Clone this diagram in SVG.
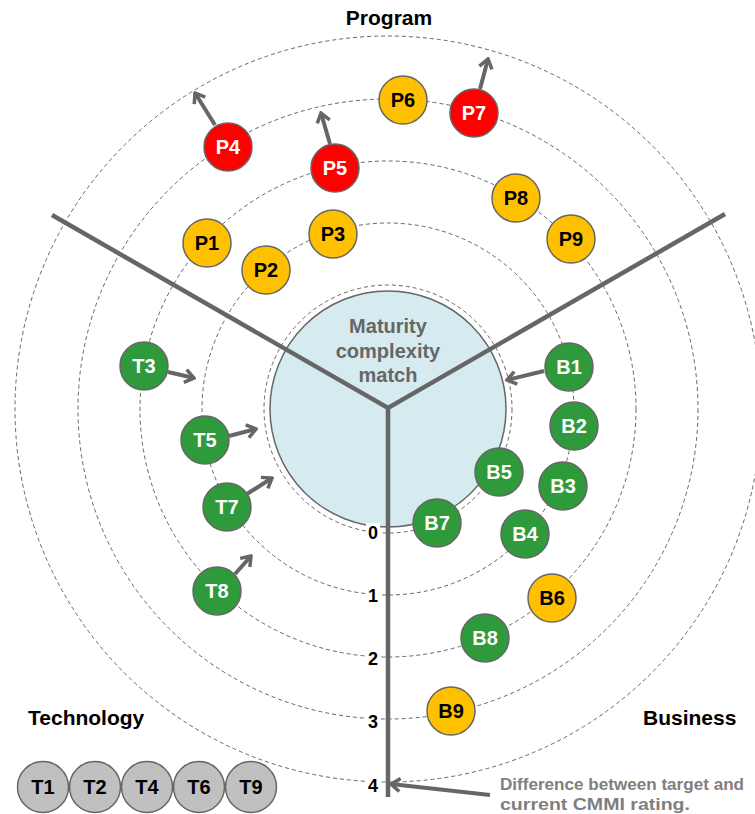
<svg xmlns="http://www.w3.org/2000/svg" width="755" height="814" viewBox="0 0 755 814">
<style>
.ring{fill:none;stroke:#666;stroke-width:1;stroke-dasharray:4 3}
.axis{stroke:#666;stroke-width:4.5;stroke-linecap:butt;fill:none}
.arr{stroke:#666;stroke-width:4;fill:none;marker-end:url(#chev)}
.node{stroke:#666;stroke-width:1.5}
.g{fill:#2E9A3C}.y{fill:#FFC000}.r{fill:#FF0000}.l{fill:#C0C0C0}
.lbl{font-family:"Liberation Sans",Arial,sans-serif;font-weight:bold;font-size:20px;text-anchor:middle;dominant-baseline:central}
.w{fill:#fff}.k{fill:#000}
.num{font-family:"Liberation Sans",Arial,sans-serif;font-weight:bold;font-size:18px;text-anchor:middle;dominant-baseline:central;fill:#000}
.title{font-family:"Liberation Sans",Arial,sans-serif;font-weight:bold;font-size:21px;fill:#000}
.note{font-family:"Liberation Sans",Arial,sans-serif;font-weight:bold;font-size:17px;fill:#7f7f7f}
.center{font-family:"Liberation Sans",Arial,sans-serif;font-weight:bold;font-size:20px;fill:#666;text-anchor:middle}
</style>
<defs>
<marker id="chev" viewBox="0 0 14 16" refX="12" refY="8" markerWidth="14" markerHeight="16" markerUnits="userSpaceOnUse" orient="auto">
<path d="M3,1.5 L12,8 L3,14.5" fill="none" stroke="#666" stroke-width="3.5"/>
</marker>
</defs>
<rect width="755" height="814" fill="#fff"/>
<g id="rings">
<circle class="ring" cx="388" cy="409" r="186"/>
<circle class="ring" cx="388" cy="409" r="248"/>
<circle class="ring" cx="388" cy="409" r="310"/>
<circle class="ring" cx="388" cy="409" r="373"/>
</g>
<g id="core">
<circle cx="388" cy="409" r="118" fill="#D6EBEF" stroke="#666" stroke-width="1.5"/>
<circle class="ring" cx="388" cy="409" r="124"/>
</g>
<g id="axes">
<polyline class="axis" points="52,215 388,408 725,214"/>
<line class="axis" x1="388" y1="406" x2="388" y2="797"/>
</g>
<g id="center-label">
<text class="center" x="388" y="333">Maturity</text>
<text class="center" x="388" y="358">complexity</text>
<text class="center" x="388" y="382">match</text>
</g>
<g id="scale">
<rect x="366" y="523" width="14" height="20" fill="#fff"/><text class="num" x="373" y="533">0</text>
<rect x="366" y="586" width="14" height="20" fill="#fff"/><text class="num" x="373" y="596">1</text>
<rect x="366" y="649" width="14" height="20" fill="#fff"/><text class="num" x="373" y="659">2</text>
<rect x="366" y="712" width="14" height="20" fill="#fff"/><text class="num" x="373" y="722">3</text>
<rect x="366" y="775" width="14" height="20" fill="#fff"/><text class="num" x="373" y="786">4</text>
</g>
<g id="connectors">
<line class="arr" x1="215" y1="125" x2="195" y2="93"/>
<line class="arr" x1="330" y1="144" x2="321" y2="113"/>
<line class="arr" x1="480" y1="89" x2="488" y2="59"/>
<line class="arr" x1="168" y1="372" x2="194" y2="378"/>
<line class="arr" x1="229" y1="436" x2="256" y2="429"/>
<line class="arr" x1="247" y1="494" x2="272" y2="478"/>
<line class="arr" x1="235" y1="574" x2="251" y2="556"/>
<line class="arr" x1="544" y1="371" x2="507" y2="380"/>
<line class="arr" x1="490" y1="795" x2="391" y2="784"/>
</g>
<g id="P6"><circle class="node y" cx="403" cy="100" r="24"/><text class="lbl k" x="403" y="100">P6</text></g>
<g id="P7"><circle class="node r" cx="474" cy="113" r="24"/><text class="lbl w" x="474" y="113">P7</text></g>
<g id="P4"><circle class="node r" cx="228" cy="147" r="24"/><text class="lbl w" x="228" y="147">P4</text></g>
<g id="P5"><circle class="node r" cx="335" cy="168" r="24"/><text class="lbl w" x="335" y="168">P5</text></g>
<g id="P8"><circle class="node y" cx="516" cy="198" r="24"/><text class="lbl k" x="516" y="198">P8</text></g>
<g id="P9"><circle class="node y" cx="571" cy="239" r="24"/><text class="lbl k" x="571" y="239">P9</text></g>
<g id="P1"><circle class="node y" cx="207" cy="243" r="24"/><text class="lbl k" x="207" y="243">P1</text></g>
<g id="P3"><circle class="node y" cx="333" cy="234" r="24"/><text class="lbl k" x="333" y="234">P3</text></g>
<g id="P2"><circle class="node y" cx="266" cy="270" r="24"/><text class="lbl k" x="266" y="270">P2</text></g>
<g id="T3"><circle class="node g" cx="144" cy="366" r="24"/><text class="lbl w" x="144" y="366">T3</text></g>
<g id="T5"><circle class="node g" cx="205" cy="440" r="24"/><text class="lbl w" x="205" y="440">T5</text></g>
<g id="T7"><circle class="node g" cx="227" cy="507" r="24"/><text class="lbl w" x="227" y="507">T7</text></g>
<g id="T8"><circle class="node g" cx="217" cy="591" r="24"/><text class="lbl w" x="217" y="591">T8</text></g>
<g id="B1"><circle class="node g" cx="569" cy="367" r="24"/><text class="lbl w" x="569" y="367">B1</text></g>
<g id="B2"><circle class="node g" cx="574" cy="426" r="24"/><text class="lbl w" x="574" y="426">B2</text></g>
<g id="B3"><circle class="node g" cx="563" cy="486" r="24"/><text class="lbl w" x="563" y="486">B3</text></g>
<g id="B4"><circle class="node g" cx="525" cy="534" r="24"/><text class="lbl w" x="525" y="534">B4</text></g>
<g id="B5"><circle class="node g" cx="499" cy="472" r="24"/><text class="lbl w" x="499" y="472">B5</text></g>
<g id="B7"><circle class="node g" cx="437" cy="523" r="24"/><text class="lbl w" x="437" y="523">B7</text></g>
<g id="B6"><circle class="node y" cx="552" cy="598" r="24"/><text class="lbl k" x="552" y="598">B6</text></g>
<g id="B8"><circle class="node g" cx="485" cy="638" r="24"/><text class="lbl w" x="485" y="638">B8</text></g>
<g id="B9"><circle class="node y" cx="451" cy="711" r="24"/><text class="lbl k" x="451" y="711">B9</text></g>
<g id="legend">
<g id="T1"><circle class="node l" cx="43" cy="787" r="25.5"/><text class="lbl k" x="43" y="787">T1</text></g>
<g id="T2"><circle class="node l" cx="95" cy="787" r="25.5"/><text class="lbl k" x="95" y="787">T2</text></g>
<g id="T4"><circle class="node l" cx="147" cy="787" r="25.5"/><text class="lbl k" x="147" y="787">T4</text></g>
<g id="T6"><circle class="node l" cx="199" cy="787" r="25.5"/><text class="lbl k" x="199" y="787">T6</text></g>
<g id="T9"><circle class="node l" cx="251" cy="787" r="25.5"/><text class="lbl k" x="251" y="787">T9</text></g>
</g>
<g id="titles">
<text class="title" x="389" y="25" text-anchor="middle">Program</text>
<text class="title" x="28" y="725">Technology</text>
<text class="title" x="643" y="725">Business</text>
<text class="note" x="500" y="790" textLength="244" lengthAdjust="spacingAndGlyphs">Difference between target and</text>
<text class="note" x="500" y="810" textLength="190" lengthAdjust="spacingAndGlyphs">current CMMI rating.</text>
</g>
</svg>
